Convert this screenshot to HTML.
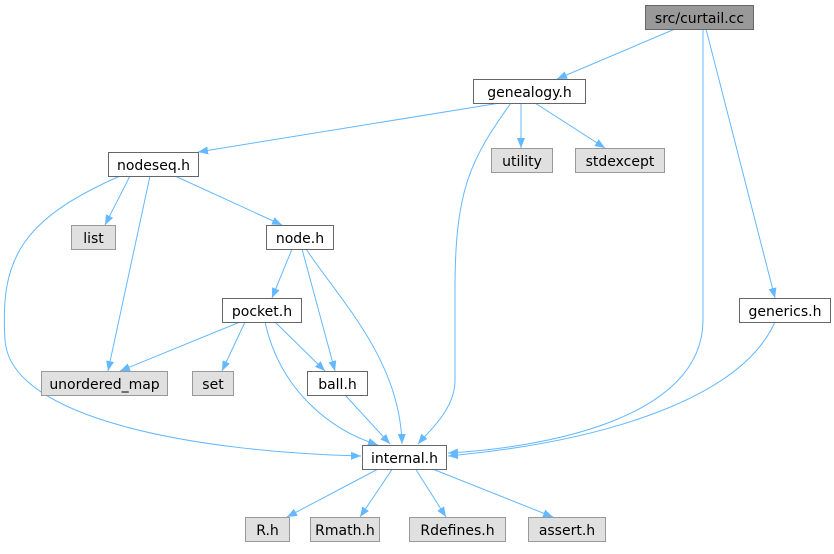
<!DOCTYPE html>
<html><head><style>body{margin:0;background:#fff}</style></head><body>
<svg width="834" height="549" xmlns="http://www.w3.org/2000/svg" font-family="DejaVu Sans, Liberation Sans, sans-serif" font-size="14">
<defs><marker id="a" viewBox="0 0 10 10" refX="10" refY="5" markerWidth="10" markerHeight="10" markerUnits="userSpaceOnUse" orient="auto"><path d="M0,1 L10,5 L0,9 z" fill="#63b8ff"/></marker></defs>
<g fill="none" stroke="#63b8ff" stroke-width="1" marker-end="url(#a)">
<path d="M675,29 L557,79"/>
<path d="M703,29 C703,120 703,260 703,320 C703,420 540,448 448,453"/>
<path d="M706,29 L775,298"/>
<path d="M500,103 L198,152"/>
<path d="M521,103 L521,148"/>
<path d="M535,103 L605,148"/>
<path d="M511,103 C470,160 455,190 455,290 L455,380 C455,410 428,432 418,444"/>
<path d="M130,176 L105,225"/>
<path d="M150,176 L108,371"/>
<path d="M175,176 L282,225"/>
<path d="M120,176 C20,220 0,260 5,340 C10,420 200,452 361,456"/>
<path d="M292,249 L272,298"/>
<path d="M302,249 L335,371"/>
<path d="M306,249 C340,300 400,360 402,444"/>
<path d="M240,322 L120,371"/>
<path d="M245,322 L222,371"/>
<path d="M275,322 L325,371"/>
<path d="M265,322 C280,390 330,430 378,445"/>
<path d="M345,395 L390,444"/>
<path d="M775,322 C740,400 600,442 448,456"/>
<path d="M380,468 L287,517"/>
<path d="M393,468 L360,517"/>
<path d="M415,468 L446,517"/>
<path d="M430,468 L553,517"/>
</g>
<g stroke-width="1">
<rect x="645.5" y="5.5" width="108" height="24" fill="#999" stroke="#666"/>
<rect x="473.5" y="79.5" width="112" height="24" fill="#fff" stroke="#666"/>
<rect x="491.5" y="148.5" width="61" height="24" fill="#e0e0e0" stroke="#999"/>
<rect x="575.5" y="148.5" width="89" height="24" fill="#e0e0e0" stroke="#999"/>
<rect x="108.5" y="152.5" width="90" height="24" fill="#fff" stroke="#666"/>
<rect x="71.5" y="225.5" width="44" height="24" fill="#e0e0e0" stroke="#999"/>
<rect x="266.5" y="225.5" width="67" height="24" fill="#fff" stroke="#666"/>
<rect x="739.5" y="298.5" width="91" height="24" fill="#fff" stroke="#666"/>
<rect x="222.5" y="298.5" width="79" height="24" fill="#fff" stroke="#666"/>
<rect x="41.5" y="371.5" width="126" height="24" fill="#e0e0e0" stroke="#999"/>
<rect x="192.5" y="371.5" width="41" height="24" fill="#e0e0e0" stroke="#999"/>
<rect x="307.5" y="371.5" width="60" height="24" fill="#fff" stroke="#666"/>
<rect x="362.5" y="445.5" width="84" height="24" fill="#fff" stroke="#666"/>
<rect x="245.5" y="517.5" width="44" height="24" fill="#e0e0e0" stroke="#999"/>
<rect x="310.5" y="517.5" width="69" height="24" fill="#e0e0e0" stroke="#999"/>
<rect x="409.5" y="517.5" width="96" height="24" fill="#e0e0e0" stroke="#999"/>
<rect x="528.5" y="517.5" width="77" height="24" fill="#e0e0e0" stroke="#999"/>
</g>
<g text-anchor="middle" fill="#000">
<text x="699.5" y="23">src/curtail.cc</text>
<text x="529.5" y="97">genealogy.h</text>
<text x="522" y="166">utility</text>
<text x="620" y="166">stdexcept</text>
<text x="153.5" y="170">nodeseq.h</text>
<text x="93.5" y="243">list</text>
<text x="300" y="243">node.h</text>
<text x="785" y="316">generics.h</text>
<text x="262" y="316">pocket.h</text>
<text x="104.5" y="389">unordered_map</text>
<text x="213" y="389">set</text>
<text x="337.5" y="389">ball.h</text>
<text x="404.5" y="463">internal.h</text>
<text x="267.5" y="535">R.h</text>
<text x="345" y="535">Rmath.h</text>
<text x="457.5" y="535">Rdefines.h</text>
<text x="567" y="535">assert.h</text>
</g>
</svg>
</body></html>
